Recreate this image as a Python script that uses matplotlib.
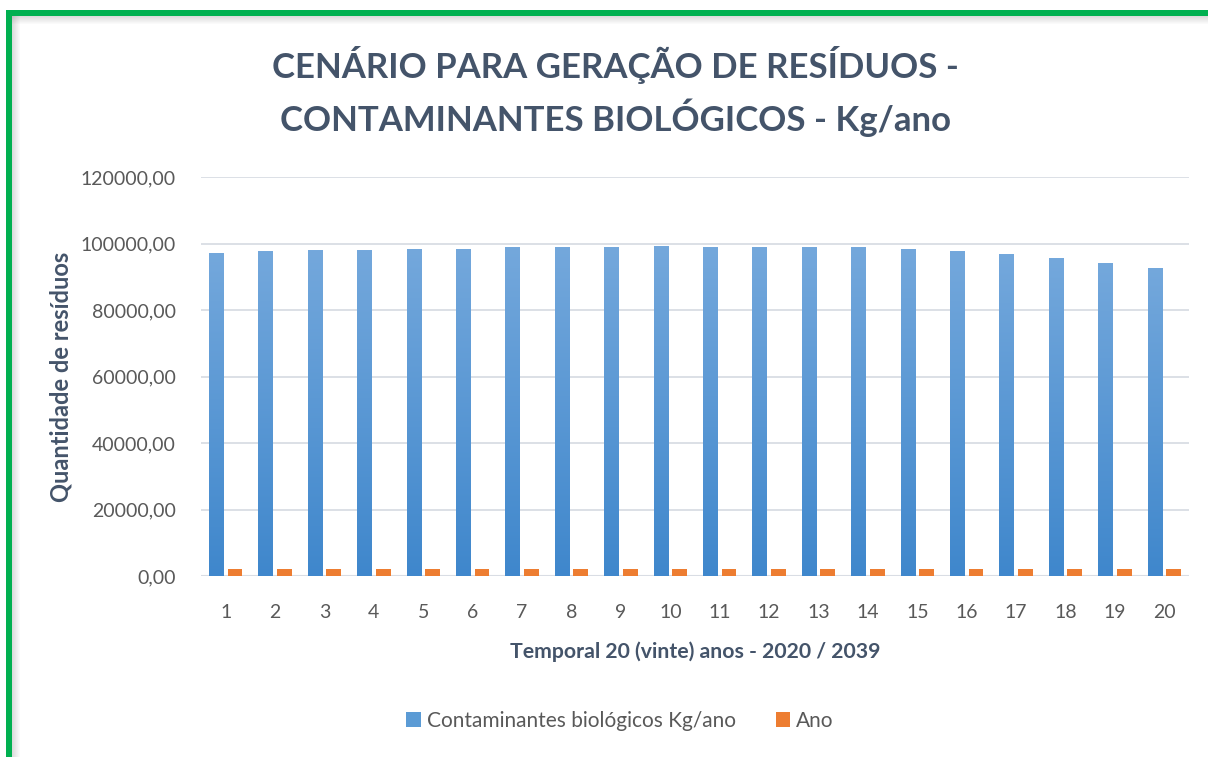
import numpy as np
import matplotlib.pyplot as plt
from matplotlib.patches import Rectangle
from matplotlib.colors import LinearSegmentedColormap

# data
anos_idx = list(range(1, 21))
contaminantes = [97200, 97600, 98000, 98000, 98400, 98400, 98800, 98800, 98800, 99200,
                 98800, 98800, 98800, 98800, 98400, 97600, 96800, 95500, 94000, 92700]
ano = list(range(2020, 2040))
y_ticks = [0, 20000, 40000, 60000, 80000, 100000, 120000]
y_ticklabels = ['0,00', '20000,00', '40000,00', '60000,00', '80000,00', '100000,00', '120000,00']

plt.rcParams['font.family'] = ['Lato', 'DejaVu Sans']
W, H = 1208, 757
fig = plt.figure(figsize=(W / 100, H / 100), dpi=100)
fig.patch.set_facecolor('white')

# green frame on top and left with soft shadow
for i in range(8):
    a = 0.28 * (1 - i / 8)
    fig.add_artist(Rectangle((12 / W + i / W, 0), 1 / W, 1 - 16 / H, transform=fig.transFigure,
                             color='gray', alpha=a, lw=0))
    fig.add_artist(Rectangle((12 / W, 1 - (16 + i) / H - 1 / H), 1, 1 / H, transform=fig.transFigure,
                             color='gray', alpha=a, lw=0))
fig.add_artist(Rectangle((6 / W, 0), 6 / W, 1 - 10 / H, transform=fig.transFigure, color='#00b050', lw=0))
fig.add_artist(Rectangle((6 / W, 1 - 16 / H), 1, 6 / H, transform=fig.transFigure, color='#00b050', lw=0))

ax = fig.add_axes([201 / W, 1 - 576 / H, 988 / W, 399 / H])
x = np.arange(len(anos_idx))
w = 0.3
bars = ax.bar(x - 0.19, contaminantes, w, color='#5b9bd5', label='Contaminantes biológicos Kg/ano', zorder=2)
ax.bar(x + 0.19, ano, w, color='#ed7d31', label='Ano', zorder=2)

# vertical gradient on the blue bars
grad = np.linspace(0, 1, 256).reshape(-1, 1)
cm = LinearSegmentedColormap.from_list('b', ['#3f87cc', '#74a8dc'])
for b in bars:
    bx, by = b.get_x(), b.get_y()
    im = ax.imshow(grad, cmap=cm, origin='lower', aspect='auto', zorder=3,
                   extent=[bx, bx + b.get_width(), by, by + b.get_height()])
    im.set_clip_path(b)

ax.set_xlim(-0.5, len(anos_idx) - 0.5)
ax.set_ylim(0, 120000)
ax.set_yticks(y_ticks)
ax.set_yticklabels(y_ticklabels)
ax.set_xticks(x)
ax.set_xticklabels([str(i) for i in anos_idx])
ax.tick_params(length=0, labelsize=14, colors='#595959')
ax.tick_params(axis='y', pad=18)
ax.tick_params(axis='x', pad=20)
for s in ax.spines.values():
    s.set_visible(False)
ax.grid(axis='y', color='#d9dde4', lw=1.3, zorder=0)
ax.axhline(0, color='#d9dde4', lw=1.5, zorder=1)

ax.set_ylabel('Quantidade de resíduos', fontsize=17, fontweight='bold', color='#44546a', labelpad=6)
ax.set_xlabel('Temporal 20 (vinte) anos - 2020 / 2039', fontsize=15.3, fontweight='bold', color='#44546a', labelpad=15)

fig.text(615 / W, 1 - 65 / H, 'CENÁRIO PARA GERAÇÃO DE RESÍDUOS -', ha='center', va='center',
         fontsize=25, fontweight='bold', color='#44546a')
fig.text(615 / W, 1 - 118 / H, 'CONTAMINANTES BIOLÓGICOS - Kg/ano', ha='center', va='center',
         fontsize=25, fontweight='bold', color='#44546a')

ax.legend(loc='center', bbox_to_anchor=(620 / W, 1 - 721 / H), bbox_transform=fig.transFigure,
          ncol=2, frameon=False, fontsize=15, labelcolor='#595959', handlelength=0.7, handleheight=0.7,
          handletextpad=0.3, columnspacing=1.9)

fig.savefig('out.png', dpi=100)
